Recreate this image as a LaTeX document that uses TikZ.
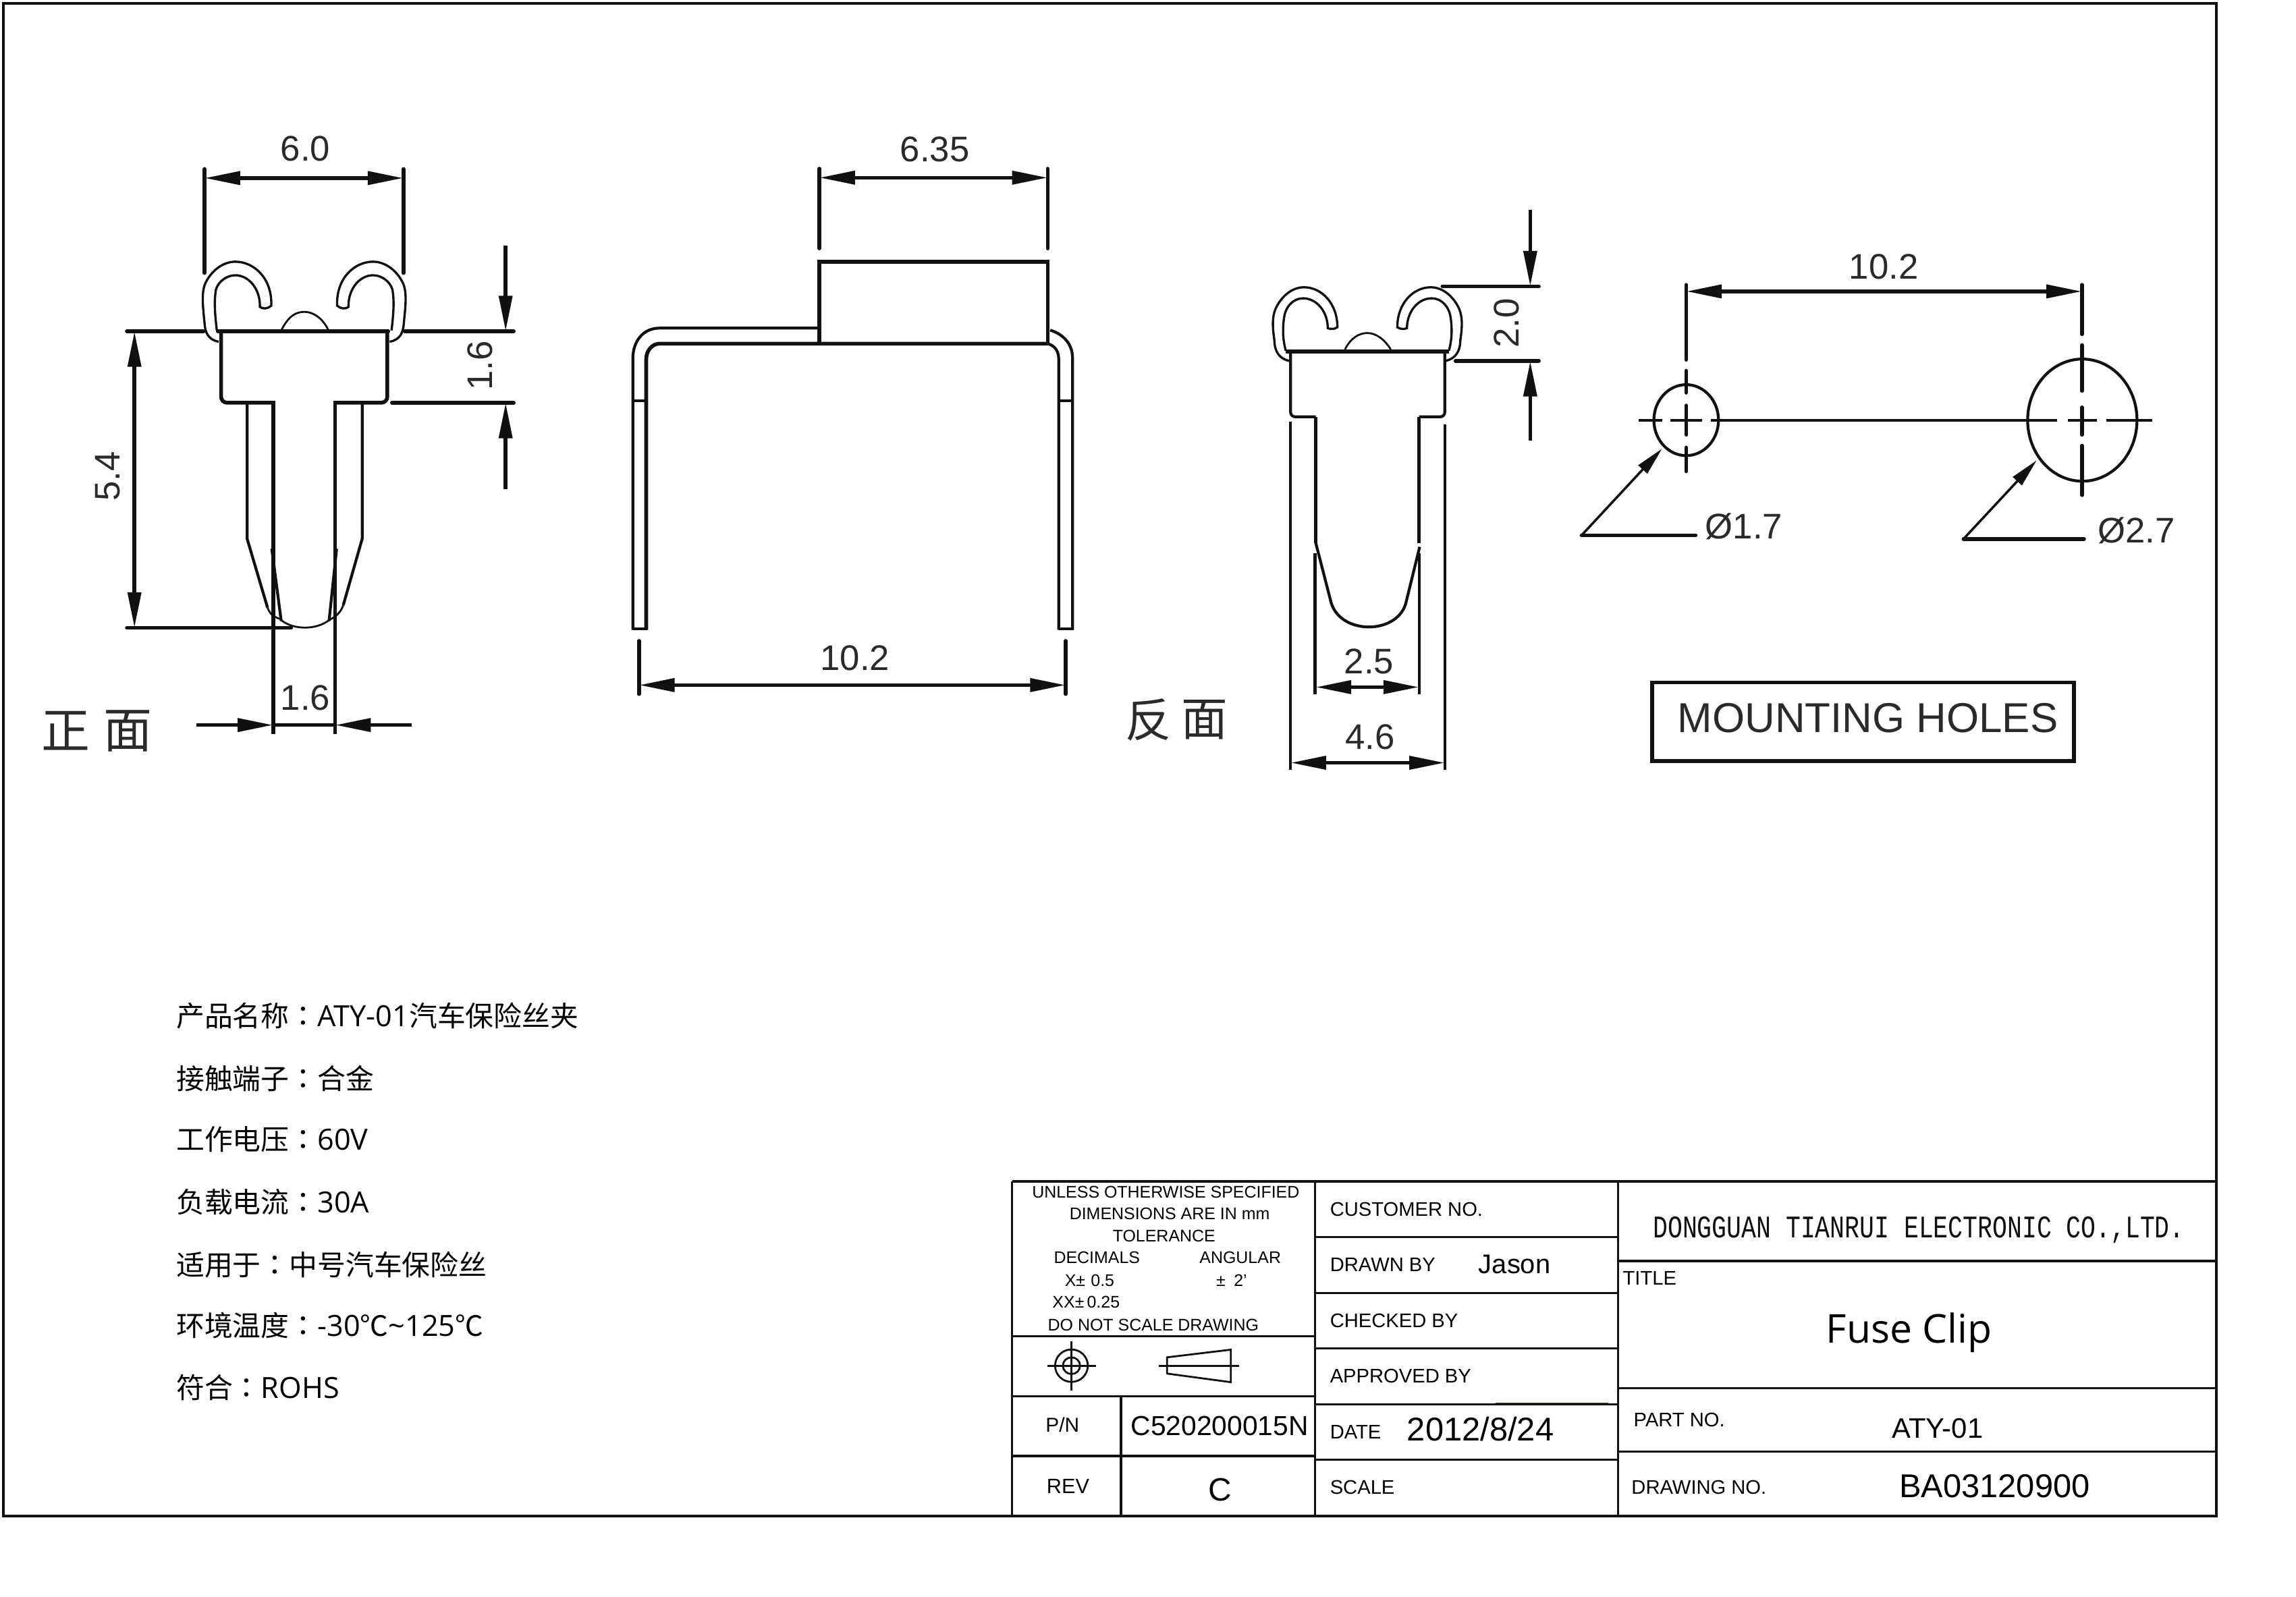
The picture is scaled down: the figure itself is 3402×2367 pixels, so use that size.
\documentclass[tikz,border=0pt]{standalone}
\usepackage{fontspec}
\usetikzlibrary{arrows.meta}
\setmainfont{Liberation Sans}
\newfontfamily\cjk{Noto Sans CJK SC}
\newfontfamily\cjktc{Noto Sans CJK TC}
\newfontfamily\titlef{Open Sans}
\newfontfamily\monof{Liberation Mono}
\newcommand{\fz}[1]{\fontsize{#1}{#1}\selectfont}
\newcommand{\cln}{{\cjktc ：}}
\newcommand{\lat}[1]{{\titlef\fz{24.6}#1}}
\definecolor{ink}{HTML}{111111}
\definecolor{dimtxt}{HTML}{2A2A2A}
\newcommand{\hookfront}{(462,532) .. controls (440,528) and (433,512) .. (432,490) .. controls (428,450) and (425,420) .. (435,400) .. controls (450,370) and (475,355) .. (497,355) .. controls (535,355) and (575,390) .. (573,452) .. controls (565,460) and (555,460) .. (549,455) .. controls (550,415) and (525,385) .. (497,385) .. controls (475,385) and (455,405) .. (455,425) .. controls (452,450) and (455,480) .. (458,507)}
\newcommand{\hookback}{(510,470) .. controls (480,465) and (467,445) .. (467,420) .. controls (462,390) and (458,360) .. (475,335) .. controls (495,305) and (525,290) .. (552,290) .. controls (605,290) and (650,330) .. (650,388) .. controls (640,393) and (630,393) .. (622,390) .. controls (622,350) and (590,317) .. (550,317) .. controls (520,317) and (498,340) .. (495,365) .. controls (490,395) and (492,420) .. (500,445)}
\tikzset{
  thickln/.style={line width=3.2pt,draw=ink,line cap=round},
  midln/.style={line width=2.4pt,draw=ink},
  wireln/.style={line width=1.9pt,draw=ink},
  thinln/.style={line width=1.6pt,draw=ink},
  frameln/.style={line width=1.8pt,draw=ink},
  dimln/.style={line width=3.2pt,draw=ink,{Triangle[length=30pt,width=11pt]}-{Triangle[length=30pt,width=11pt]}},
  onearrow/.style={line width=3.2pt,draw=ink,-{Triangle[length=30pt,width=11pt]}},
  leadarrow/.style={line width=2pt,draw=ink,-{Triangle[length=24pt,width=10pt]}},
  dimtext/.style={inner sep=0,text=dimtxt,font=\fz{30}},
  tbl/.style={inner sep=0,anchor=west,text=black,font=\fz{16.6}},
  tbc/.style={inner sep=0,text=black,font=\fz{14.2}},
  spec/.style={inner sep=0,anchor=west,text=black,font=\cjk\fz{23.8}},
  hanzi/.style={inner sep=0,text=dimtxt,font=\cjk\fz{39}},
}
\begin{document}
\begin{tikzpicture}[x=0.02cm,y=-0.02cm]
\useasboundingbox (0,0) rectangle (3402,2367);
\fill[white] (0,0) rectangle (3402,2367);
% outer frame
\draw[frameln] (5,5) rectangle (3284,2247);

% ---------- front view
\begin{scope}[shift={(0,150)},xscale=.7015,yscale=.67]
\draw[thickln] (432,150) -- (432,380);
\draw[thickln] (852,150) -- (852,380);
\draw[dimln] (432,170) -- (852,170);
\node[dimtext] (tA) at (645,105) {6.0};
\draw[thickln] (268,509) -- (430,509);
\draw[thickln] (855,509) -- (1085,509);
\draw[thickln] (460,509) -- (820,509);
\draw[thickln,line cap=butt,rounded corners=5pt] (467,509) -- (467,667) -- (580,667);
\draw[thickln,line cap=butt,rounded corners=5pt] (818,509) -- (818,667) -- (705,667);
\draw[thickln,line cap=butt] (577,663) -- (577,1400);
\draw[thickln,line cap=butt] (708,663) -- (708,1400);
\draw[midln] (522,667) -- (522,968) -- (565,1120);
\draw[midln] (765,667) -- (765,968) -- (725,1115);
\draw[thinln] (565,1120) .. controls (570,1135) and (578,1140) .. (590,1145);
\draw[thinln] (725,1115) .. controls (720,1130) and (710,1140) .. (698,1146);
\draw[midln] (574,990) -- (594,1150);
\draw[midln] (711,990) -- (695,1150);
\draw[thinln] (594,1148) .. controls (620,1170) and (668,1170) .. (695,1148);
\draw[thickln] (268,1165) -- (615,1165);
\draw[dimln] (284,509) -- (284,1165);
\node[dimtext,rotate=90] (tB) at (228,830) {5.4};
\draw[onearrow] (1068,320) -- (1068,509);
\draw[onearrow] (1068,858) -- (1068,667);
\draw[thickln] (828,667) -- (1085,667);
\node[dimtext,rotate=90] (tC) at (1014,585) {1.6};
\draw[onearrow] (415,1380) -- (577,1380);
\draw[onearrow] (870,1380) -- (708,1380);
\draw[thickln] (577,1380) -- (708,1380);
\node[dimtext] (tD) at (645,1320) {1.6};
% hooks and dome
\draw[wireln] \hookfront;
\begin{scope}[shift={(1285,0)},xscale=-1]
\draw[wireln] \hookfront;
\end{scope}
\draw[thinln] (595,505) .. controls (610,475) and (625,466) .. (643,466) .. controls (660,466) and (680,478) .. (693,505);
\end{scope}
\node[hanzi,font=\cjk\fz{41}] (zh1) at (98,1083) {正};
\node[hanzi,font=\cjk\fz{41}] (mian1) at (190,1083) {面};

% ---------- side view
\begin{scope}[shift={(880,150)},xscale=.5102,yscale=.606]
\draw[thickln] (655,165) -- (655,360);
\draw[thickln] (1318,165) -- (1318,360);
\draw[dimln] (655,187) -- (1318,187);
\node[dimtext] (tE) at (990,118) {6.35};
\draw[thickln,line cap=butt] (655,593) -- (655,393) -- (1318,393) -- (1318,593);
\draw[midln] (113,1293) -- (113,630) .. controls (113,585) and (145,555) .. (190,555) -- (650,555);
\draw[thickln,line cap=butt] (152,1293) -- (152,630) .. controls (152,610) and (170,593) .. (190,593) -- (1318,593);
\draw[midln] (1318,593) .. controls (1338,598) and (1350,610) .. (1350,632) -- (1350,1293);
\draw[midln] (1325,560) .. controls (1365,570) and (1390,595) .. (1390,628) -- (1390,1293);
\draw[midln] (113,1290) -- (155,1290);
\draw[midln] (1350,1290) -- (1393,1290);
\draw[midln] (113,733) -- (152,733);
\draw[midln] (1350,733) -- (1390,733);
\draw[thickln] (131,1320) -- (131,1450);
\draw[thickln] (1370,1320) -- (1370,1450);
\draw[dimln] (131,1428) -- (1370,1428);
\node[dimtext] (tF) at (758,1362) {10.2};
\end{scope}

% ---------- back view
\begin{scope}[shift={(1650,250)},xscale=.5102,yscale=.606]
\draw[wireln] \hookback;
\begin{scope}[shift={(1474,0)},xscale=-1]
\draw[wireln] \hookback;
\end{scope}
\draw[thickln,line cap=butt] (500,447) -- (975,447);
\draw[thinln] (672,442) .. controls (690,412) and (715,402) .. (737,402) .. controls (760,402) and (785,415) .. (805,442);
\draw[midln,rounded corners=4pt] (514,447) -- (514,607) -- (587,607);
\draw[midln,rounded corners=4pt] (962,447) -- (962,607) -- (887,607);
\draw[midln] (587,607) -- (587,915);
\draw[midln] (887,607) -- (887,915);
\draw[midln] (587,915) -- (632,1062) .. controls (660,1140) and (820,1140) .. (848,1065) -- (889,925);
\draw[midln] (585,940) -- (585,1285);
\draw[midln] (888,940) -- (888,1285);
\draw[midln] (514,618) -- (514,1470);
\draw[midln] (962,625) -- (962,1470);
\draw[dimln] (587,1268) -- (887,1268);
\node[dimtext] (tG) at (742,1205) {2.5};
\draw[dimln] (514,1453) -- (962,1453);
\node[dimtext] (tH) at (745,1390) {4.6};
\draw[onearrow] (1210,100) -- (1210,288);
\draw[onearrow] (1210,665) -- (1210,470);
\draw[thickln] (955,288) -- (1235,288);
\draw[thickln] (993,470) -- (1235,470);
\node[dimtext,rotate=90] (tI) at (1142,378) {2.0};
\end{scope}
\node[hanzi] (fan) at (1702,1067) {反};
\node[hanzi] (mian2) at (1785,1067) {面};

% ---------- mounting holes
\begin{scope}[shift={(2300,330)},xscale=.638,yscale=.542]
\draw[dimln] (311,188) -- (1230,188);
\node[dimtext] (tJ) at (770,120) {10.2};
\draw[thickln] (311,170) -- (311,375);
\draw[thickln] (311,405) -- (311,465);
\draw[thickln] (311,500) -- (311,580);
\draw[thickln] (311,615) -- (311,680);
\draw[thickln] (1230,170) -- (1230,305);
\draw[thickln] (1230,335) -- (1230,460);
\draw[thickln] (1230,505) -- (1230,580);
\draw[thickln] (1230,610) -- (1230,745);
\draw[midln] (200,540) -- (255,540);
\draw[midln] (275,540) -- (348,540);
\draw[midln] (368,540) -- (1172,540);
\draw[midln] (1197,540) -- (1265,540);
\draw[midln] (1287,540) -- (1393,540);
\draw[midln] (311,540) ellipse [x radius=75,y radius=97];
\draw[midln] (1231,540) ellipse [x radius=127,y radius=167];
\draw[thickln] (68,855) -- (333,855);
\draw[leadarrow] (68,855) -- (255,618);
\draw[thickln] (955,865) -- (1235,865);
\draw[leadarrow] (955,865) -- (1125,650);
\node[dimtext] (tK) at (445,830) {Ø1.7};
\node[dimtext] (tL) at (1357,842) {Ø2.7};
\draw[thickln,line cap=butt] (232,1257) rectangle (1212,1472);
\node[dimtext,font=\fz{35.2}] (tM) at (733,1355) {MOUNTING HOLES};
\end{scope}

% ---------- spec list
\node[spec] (s1) at (261,1506) {产品名称\cln\lat{ATY-01}汽车保险丝夹};
\node[spec] (s2) at (261,1598) {接触端子\cln 合金};
\node[spec] (s3) at (261,1689) {工作电压\cln\lat{60V}};
\node[spec] (s4) at (261,1782) {负载电流\cln\lat{30A}};
\node[spec] (s5) at (261,1875) {适用于\cln 中号汽车保险丝};
\node[spec] (s6) at (261,1965) {环境温度\cln\lat{-30}℃\lat{\string~125}℃};
\node[spec] (s7) at (261,2057) {符合\cln\lat{ROHS}};

% ---------- title block, left part
\begin{scope}[shift={(1490,1740)},xscale=.638,yscale=.344]
\draw[frameln] (15,32) -- (15,1472);
\draw[frameln] (718,32) -- (718,1472);
\draw[frameln] (1423,32) -- (1423,1472);
\draw[frameln] (268,958) -- (268,1472);
\draw[frameln] (15,32) -- (1423,32);
\draw[frameln] (15,1472) -- (1423,1472);
\foreach \yy in {700,957,1215} \draw[frameln] (15,\yy) -- (718,\yy);
\foreach \yy in {272,512,752,992,1232} \draw[frameln] (718,\yy) -- (1423,\yy);
\draw[red!85!black,line width=.7pt] (1138,987) -- (1400,987);
\node[tbc] (u1) at (372,78) {UNLESS OTHERWISE SPECIFIED};
\node[tbc] (u2) at (381,170) {DIMENSIONS ARE IN mm};
\node[tbc] (u3) at (368,268) {TOLERANCE};
\node[tbc] (u4) at (212,360) {DECIMALS};
\node[tbc] (u5) at (545,360) {ANGULAR};
\node[tbc] (u6) at (195,460) {X±\,\,0.5};
\node[tbc] (u7) at (525,460) {±\,\,\,2'};
\node[tbc] (u8) at (187,552) {XX±\,0.25};
\node[tbc] (u9) at (343,650) {DO NOT SCALE DRAWING};
\draw[thinln] (153,826) ellipse [x radius=38,y radius=70];
\draw[thinln] (153,826) ellipse [x radius=20,y radius=36];
\draw[thinln] (97,826) -- (210,826);
\draw[thinln] (153,722) -- (153,932);
\draw[thinln] (375,790) -- (523,757) -- (523,897) -- (375,860) -- cycle;
\draw[thinln] (355,826) -- (543,826);
\node[inner sep=0,font=\fz{17}] (pn) at (132,1080) {P/N};
\node[inner sep=0,font=\fz{23.2}] (pnv) at (497,1085) {C520200015N};
\node[inner sep=0,font=\fz{17.5}] (rev) at (145,1345) {REV};
\node[inner sep=0,font=\fz{27.2}] (revv) at (498,1362) {C};
\node[tbl] (c1) at (753,152) {CUSTOMER NO.};
\node[tbl] (c2) at (753,392) {DRAWN BY};
\node[tbl,font=\fz{22.7}] (c2v) at (1098,390) {Jason};
\node[tbl] (c3) at (753,632) {CHECKED BY};
\node[tbl] (c4) at (753,870) {APPROVED BY};
\node[tbl] (c5) at (753,1112) {DATE};
\node[tbl,font=\fz{27.8}] (c5v) at (932,1100) {2012/8/24};
\node[tbl] (c6) at (753,1350) {SCALE};
\end{scope}

% ---------- title block, right part
\begin{scope}[shift={(2390,1740)},xscale=.6454,yscale=.344]
\draw[frameln] (10,32) -- (1385,32);
\foreach \yy in {375,923,1197} \draw[frameln] (10,\yy) -- (1385,\yy);
\draw[frameln] (10,1472) -- (1385,1472);
\node[inner sep=0,text=ink,font=\monof\fz{26.6}] (co) at (702,242) {\scalebox{.78}[1]{DONGGUAN TIANRUI ELECTRONIC CO.,LTD.}};
\node[tbl] (ti) at (22,448) {TITLE};
\node[inner sep=0,font=\titlef\fz{33.5}] (fc) at (680,684) {Fuse Clip};
\node[tbl] (pa) at (47,1058) {PART NO.};
\node[inner sep=0,font=\fz{23.8}] (pav) at (745,1095) {ATY-01};
\node[tbl] (dr) at (42,1350) {DRAWING NO.};
\node[inner sep=0,font=\fz{27.8}] (drv) at (876,1345) {BA03120900};
\end{scope}
\end{tikzpicture}
\end{document}
